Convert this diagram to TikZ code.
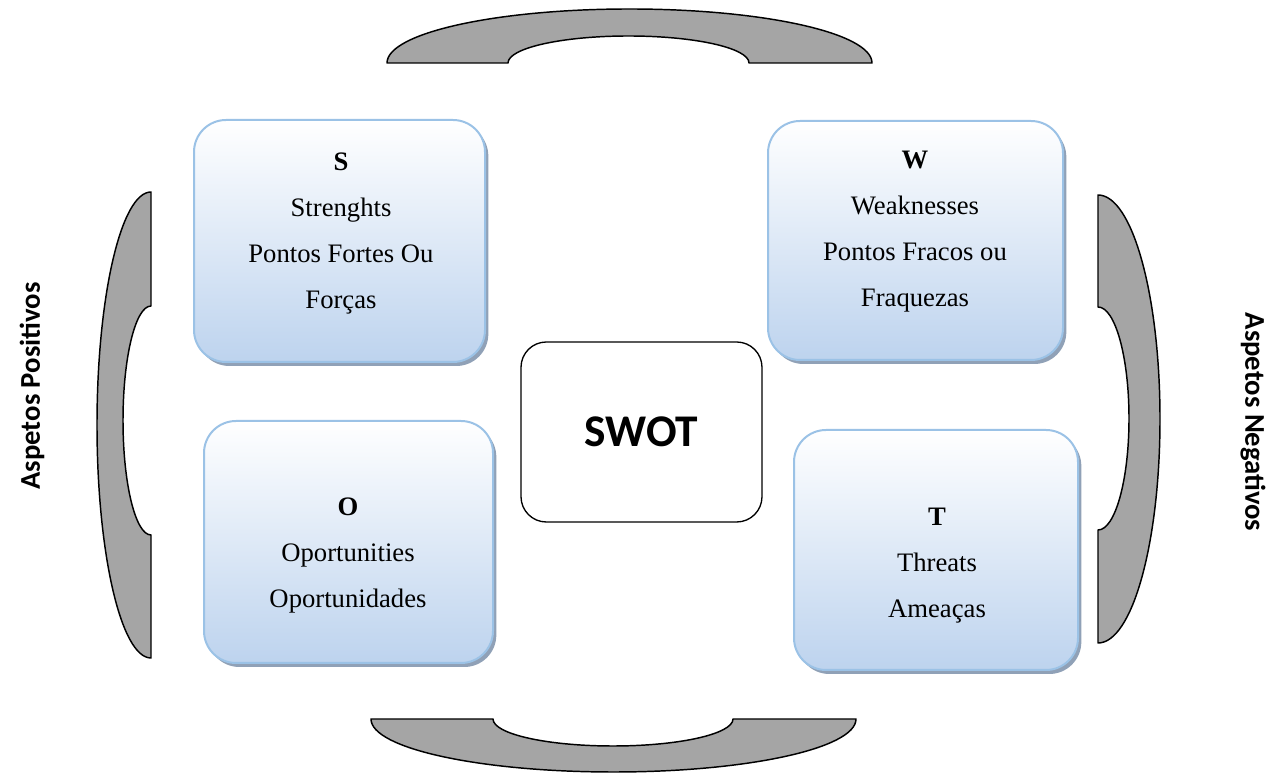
\documentclass[tikz,border=0pt]{standalone}
\usepackage{fontspec}
\setmainfont{Liberation Serif}
\newfontfamily\labelfont{Carlito}
\usetikzlibrary{shadows}

\definecolor{bandgray}{HTML}{A5A5A5}
\definecolor{panelborder}{RGB}{155,194,230}
\definecolor{paneltop}{RGB}{255,255,255}
\definecolor{panelbottom}{RGB}{189,211,238}
\definecolor{panelshadow}{RGB}{125,145,170}

\begin{document}
\begin{tikzpicture}[x=0.75pt,y=0.75pt,
  band/.style={fill=bandgray, draw=black, line width=1.1pt, line join=round},
  panel/.style 2 args={draw=panelborder, line width=1.5pt, rounded corners=24pt,
    top color=paneltop, bottom color=panelbottom,
    minimum width=#1*0.75pt, minimum height=#2*0.75pt, inner sep=0pt,
    drop shadow={shadow xshift=2.5pt, shadow yshift=-3pt, fill=panelshadow, opacity=0.85}},
  paneltext/.style={align=center, inner sep=0pt, font=\fontsize{20}{34.5}\selectfont},
  side/.style={inner sep=0pt, font=\labelfont\bfseries\fontsize{21.5}{26}\selectfont}]

\useasboundingbox (0,0) rectangle (1278,774);

% curved bands around the matrix
\draw[band] (387,711) arc[start angle=180, end angle=0, x radius=242.5, y radius=54]
  -- (749,711) arc[start angle=0, end angle=180, x radius=120.5, y radius=27] -- cycle;
\draw[band] (371,55) arc[start angle=180, end angle=360, x radius=242.5, y radius=53]
  -- (733,55) arc[start angle=0, end angle=-180, x radius=120, y radius=27] -- cycle;
\draw[band] (151,582) arc[start angle=90, end angle=270, x radius=54, y radius=233]
  -- (151,239) arc[start angle=270, end angle=90, x radius=28, y radius=114.5] -- cycle;
\draw[band] (1098,579) arc[start angle=90, end angle=-90, x radius=62, y radius=224]
  -- (1098,244) arc[start angle=-90, end angle=90, x radius=31, y radius=111.5] -- cycle;

% the four quadrant panels
\node[panel={291}{242}] (S) at (339.5,533) {};
\node[panel={295}{239}] (W) at (915.5,533.5) {};
\node[panel={289}{242}] (O) at (348.5,232) {};
\node[panel={284}{240}] (T) at (936,224) {};

\node[paneltext] (Stxt) at (341,540) {\textbf{S}\\Strenghts\\Pontos Fortes Ou\\Forças};
\node[paneltext] (Wtxt) at (915,542) {\textbf{W}\\Weaknesses\\Pontos Fracos ou\\Fraquezas};
\node[paneltext] (Otxt) at (348,218) {\textbf{O}\\Oportunities\\Oportunidades};
\node[paneltext] (Ttxt) at (937,208.5) {\textbf{T}\\Threats\\Ameaças};

% centre box
\node[draw, line width=1pt, rounded corners=19pt, fill=white,
  minimum width=241*0.75pt, minimum height=180*0.75pt, inner sep=0pt,
  font=\labelfont\bfseries\fontsize{34}{40}\selectfont] (swot) at (641.5,342) {SWOT};

% side captions
\node[side, rotate=90] (pos) at (32,388) {Aspetos Positivos};
\node[side, rotate=-90] (neg) at (1253,352) {Aspetos Negativos};
\end{tikzpicture}
\end{document}
